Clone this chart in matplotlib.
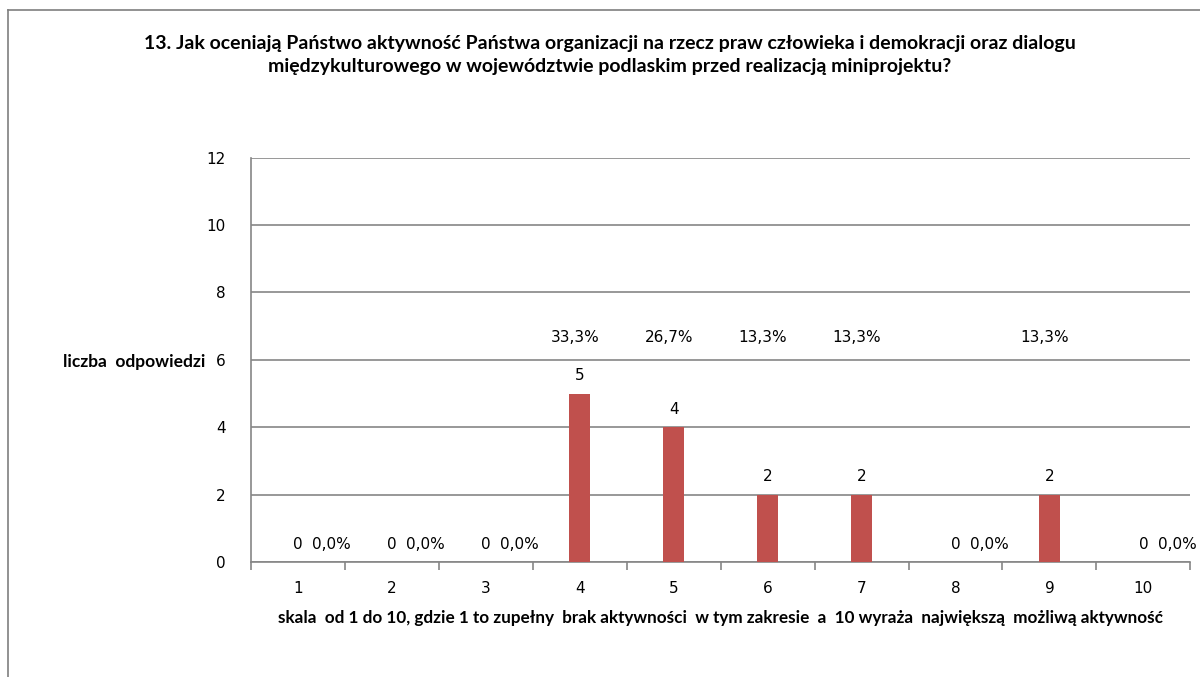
import numpy as np
import matplotlib.pyplot as plt
from matplotlib.lines import Line2D

# data
categories = ['1', '2', '3', '4', '5', '6', '7', '8', '9', '10']
counts = [0, 0, 0, 5, 4, 2, 2, 0, 2, 0]
percents = ['0,0%', '0,0%', '0,0%', '33,3%', '26,7%', '13,3%', '13,3%', '0,0%', '13,3%', '0,0%']

title = ('13. Jak oceniają Państwo aktywność Państwa organizacji na rzecz praw człowieka i demokracji oraz dialogu\n'
         'międzykulturowego w województwie podlaskim przed realizacją miniprojektu?')
xlab = 'skala  od 1 do 10, gdzie 1 to zupełny  brak aktywności  w tym zakresie  a  10 wyraża  największą  możliwą aktywność'
ylab = 'liczba  odpowiedzi'

bar_color = '#C0504D'
grid_color = '#868686'
num_font = 'DejaVu Sans'
txt_font = 'Lato'

fig = plt.figure(figsize=(12, 6.77), dpi=100)
ax = fig.add_axes([0.209, 0.170, 0.783, 0.597])

x = np.arange(len(categories))
ax.bar(x, counts, width=0.23, color=bar_color, zorder=3)

ax.set_xlim(-0.5, len(categories) - 0.5)
ax.set_ylim(0, 12)
ax.set_yticks(range(0, 13, 2))
ax.yaxis.grid(True, color=grid_color, linewidth=1.2)
ax.set_axisbelow(True)

# category boundaries as tick marks, labels in the middle
ax.set_xticks(np.arange(-0.5, len(categories), 1.0))
ax.set_xticklabels([])
ax.set_xticks(x, minor=True)
ax.set_xticklabels(categories, minor=True, fontsize=11, fontfamily=num_font)
ax.tick_params(axis='x', which='major', length=6, color=grid_color, width=1.2)
ax.tick_params(axis='x', which='minor', length=0, pad=14)
ax.tick_params(axis='y', length=0, pad=18, labelsize=11)
for t in ax.get_yticklabels():
    t.set_fontfamily(num_font)

for s in ['top', 'right']:
    ax.spines[s].set_visible(False)
for s in ['left', 'bottom']:
    ax.spines[s].set_color(grid_color)
    ax.spines[s].set_linewidth(1.2)

# value and share labels
for i, (c, p) in enumerate(zip(counts, percents)):
    if c == 0:
        ax.text(i, 0.3, '0', ha='center', va='bottom', fontsize=11, fontfamily=num_font)
        ax.text(i + 0.15, 0.3, p, ha='left', va='bottom', fontsize=11, fontfamily=num_font)
    else:
        ax.text(i, c + 0.3, str(c), ha='center', va='bottom', fontsize=11, fontfamily=num_font)
        ax.text(i - 0.05, 6.45, p, ha='center', va='bottom', fontsize=11, fontfamily=num_font)

ax.set_xlabel(xlab, fontsize=12.3, fontweight='bold', fontfamily=txt_font, labelpad=10)
fig.text(0.171, 1 - 362 / 677, ylab, ha='right', va='center', fontsize=12.5,
         fontweight='bold', fontfamily=txt_font)
fig.text(610 / 1200, 1 - 55 / 677, title, ha='center', va='center', fontsize=14,
         fontweight='bold', fontfamily=txt_font, linespacing=1.4)

# chart area frame (top and left edges visible)
fig.add_artist(Line2D([8 / 1200, 1], [1 - 10 / 677, 1 - 10 / 677], color='#7f7f7f', linewidth=1.2))
fig.add_artist(Line2D([8 / 1200, 8 / 1200], [0, 1 - 10 / 677], color='#7f7f7f', linewidth=1.2))

fig.savefig('out.png', dpi=100)
